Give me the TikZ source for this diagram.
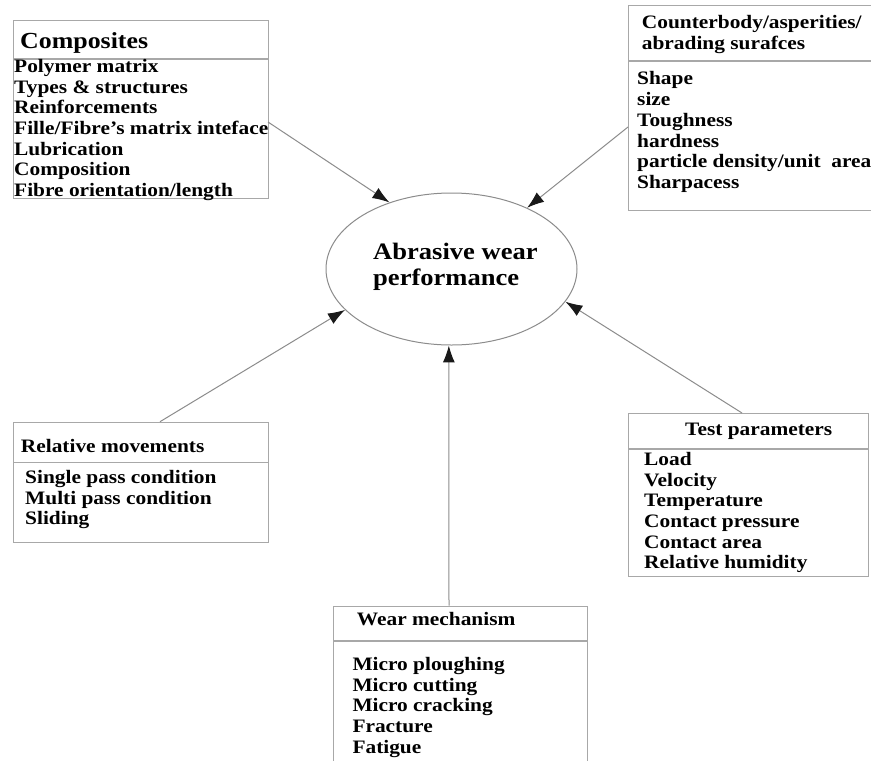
\documentclass[tikz,border=0pt]{standalone}
\usepackage{fontspec}
\setmainfont{Liberation Serif}[FakeStretch=1.125]
\usetikzlibrary{arrows.meta,shapes.geometric}
\definecolor{boxgray}{HTML}{A8A8A8}
\definecolor{linegray}{HTML}{8C8C8C}
\tikzset{
  boxframe/.style={draw=boxgray, line width=1.2pt, rectangle, inner sep=0pt, anchor=north west},
  divider/.style={draw=boxgray, line width=1.2pt},
  itemtext/.style={anchor=north west, inner sep=0pt, align=left, font=\bfseries\fontsize{19}{20.7}\selectfont},
  titletext/.style={anchor=base west, inner sep=0pt, font=\bfseries\fontsize{19}{21}\selectfont},
  bigtitle/.style={anchor=base west, inner sep=0pt, font=\bfseries\fontsize{23}{25}\selectfont},
  arr/.style={draw=linegray, line width=1pt, -{Latex[length=17pt,width=12pt,color=black!90]}},
}
\begin{document}
\begin{tikzpicture}[x=1pt,y=-1pt]
\useasboundingbox (0,0) rectangle (871,761);
\clip (0,0) rectangle (871,761);
\fill[white] (0,0) rectangle (871,761);

% Composites
\node[boxframe, minimum width=255pt, minimum height=178pt] (comp) at (13,20) {};
\draw[divider] (13,59) -- (268,59);
\node[bigtitle] (compT) at (20,48.3) {Composites};
\node[itemtext] (compI) at (14,59) {Polymer matrix\\Types \& structures\\Reinforcements\\Fille/Fibre's matrix inteface\\Lubrication\\Composition\\Fibre orientation/length};

% Counterbody
\node[boxframe, minimum width=250pt, minimum height=205pt] (cb) at (628,5) {};
\draw[divider] (628,61) -- (880,61);
\node[itemtext, font=\bfseries\fontsize{19}{21}\selectfont] (cbT) at (641.7,15) {Counterbody/asperities/\\abrading surafces};
\node[itemtext, font=\bfseries\fontsize{19}{20.8}\selectfont] (cbI) at (637,71.3) {Shape\\size\\Toughness\\hardness\\particle density/unit\ \ area\\Sharpacess};

% Ellipse
\node[draw=linegray, line width=1pt, ellipse, minimum width=251pt, minimum height=152pt, inner sep=0pt] (ell) at (451.5,269) {};
\node[itemtext, font=\bfseries\fontsize{23.6}{25.7}\selectfont] (ellT) at (373,243.1) {Abrasive wear\\performance};

% Relative movements
\node[boxframe, minimum width=255pt, minimum height=120pt] (rel) at (13,421.7) {};
\draw[divider] (13,462.3) -- (268,462.3);
\node[titletext] (relT) at (20.7,452.3) {Relative movements};
\node[itemtext, font=\bfseries\fontsize{19}{20.35}\selectfont] (relI) at (25,470.3) {Single pass condition\\Multi pass condition\\Sliding};

% Test parameters
\node[boxframe, minimum width=240pt, minimum height=163pt] (tp) at (628,413) {};
\draw[divider] (628,449) -- (868,449);
\node[titletext] (tpT) at (685,435) {Test parameters};
\node[itemtext] (tpI) at (644,452) {Load\\Velocity\\Temperature\\Contact pressure\\Contact area\\Relative humidity};

% Wear mechanism
\node[boxframe, minimum width=253.7pt, minimum height=180pt] (wm) at (333,605.7) {};
\draw[divider] (333,641) -- (586.7,641);
\node[titletext] (wmT) at (356.7,625) {Wear mechanism};
\node[itemtext] (wmI) at (352.3,657) {Micro ploughing\\Micro cutting\\Micro cracking\\Fracture\\Fatigue};

% Connectors
\coordinate (compE) at (268,122);
\coordinate (cbW) at (628,127);
\coordinate (relN) at (160,421.7);
\coordinate (tpN) at (742,413);
\coordinate (wmN) at (449,605.7);
\draw[arr] (compE) -- (ell.133.5);
\draw[arr] (cbW) -- (ell.39);
\draw[arr] (relN) -- (ell.201.4);
\draw[arr] (tpN) -- (ell.344.6);
\draw[arr] (wmN) -- (ell.268.9);
\end{tikzpicture}
\end{document}
